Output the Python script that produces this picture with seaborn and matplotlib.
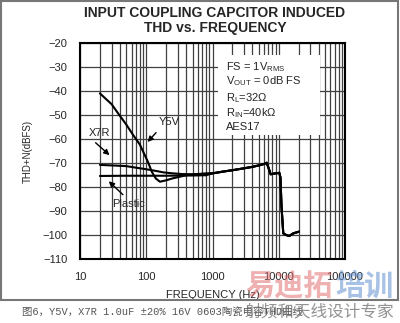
import matplotlib
matplotlib.use("Agg")
import matplotlib.pyplot as plt
import seaborn as sns
import pandas as pd
import numpy as np
from matplotlib.patches import Rectangle

# ---- data ----
y5v_freq = [20, 25, 30, 38, 50, 64, 80, 98, 107, 121, 140, 161, 200, 250, 323, 408, 500, 700]
y5v_thd = [-41, -43.5, -45.5, -49.5, -54, -58.5, -62.3, -67.5, -69.8, -73.6, -76.5, -77.8, -77.2, -76.4, -75.7, -75.0, -74.8, -74.5]

x7r_freq = [20, 30, 50, 72, 100, 140, 181, 250, 350, 513, 700]
x7r_thd = [-70.8, -71.0, -71.3, -72.0, -72.6, -73.3, -73.9, -74.3, -74.6, -74.7, -74.5]

plastic_freq = [20, 50, 100, 200, 500, 800]
plastic_thd = [-75.4, -75.3, -75.3, -75.3, -75.2, -75.1]

tail_freq = [1000, 1500, 2000, 3000, 4000, 5000, 6000, 6580, 7100, 7550, 8500, 10200, 10600, 11000, 11700, 13000, 14400, 16600, 18500, 20200]
tail_thd = [-74.3, -73.5, -73.0, -72.2, -71.6, -71.0, -70.4, -69.9, -72.5, -74.7, -74.4, -74.1, -76.0, -88.0, -99.3, -100.0, -100.4, -99.3, -98.9, -98.6]

series_names = ["Y5V", "X7R", "Plastic"]
y_ticks = [-20, -30, -40, -50, -60, -70, -80, -90, -100, -110]
x_ticks = [10, 100, 1000, 10000, 100000]
x_tick_labels = ["10", "100", "1000", "10000", "100000"]

rows = []
for name, fr, th in [("Y5V", y5v_freq, y5v_thd), ("X7R", x7r_freq, x7r_thd), ("Plastic", plastic_freq, plastic_thd)]:
    for f, t in zip(fr + tail_freq, th + tail_thd):
        rows.append({"series": name, "freq": f, "thd": t})
df = pd.DataFrame(rows)

sns.set_style("white")
plt.rcParams["font.family"] = ["Liberation Sans", "DejaVu Sans"]
plt.rcParams["mathtext.fontset"] = "custom"
plt.rcParams["mathtext.rm"] = "Liberation Sans"
plt.rcParams["mathtext.it"] = "Liberation Sans"

fig = plt.figure(figsize=(4.0, 3.23), dpi=100)
ax = fig.add_axes([0.2, 0.198, 0.6625, 0.669])

ax.set_xscale("log")
ax.set_xlim(10, 100000)
ax.set_ylim(-110, -20)

# grid
ax.set_xticks(x_ticks)
ax.set_xticklabels(x_tick_labels)
ax.set_yticks(y_ticks)
ax.xaxis.set_minor_locator(matplotlib.ticker.LogLocator(base=10, subs=np.arange(2, 10)))
ax.xaxis.set_minor_formatter(matplotlib.ticker.NullFormatter())
ax.grid(True, which="both", axis="x", color="#404040", linewidth=0.9, zorder=0)
ax.grid(True, which="major", axis="y", color="#404040", linewidth=0.9, zorder=0)
ax.set_axisbelow(True)
ax.tick_params(axis="both", which="both", length=0, labelsize=8, pad=9)

# white box behind condition text
ax.add_patch(Rectangle((1210, -58.3), 42000 - 1210, 33.3, facecolor="white", edgecolor="none", zorder=1.5))

for name in series_names:
    sns.lineplot(data=df[df.series == name], x="freq", y="thd", ax=ax, color="black",
                 linewidth=1.5, sort=False, estimator=None, zorder=3)

for s in ax.spines.values():
    s.set_color("black")
    s.set_linewidth(1.5)

ax.set_xlabel("FREQUENCY (Hz)", fontsize=8, labelpad=6)
ax.set_ylabel("THD+N(dBFS)", fontsize=7, labelpad=7)

# condition text
cond = ["FS = 1V$_{\\mathrm{RMS}}$", "V$_{\\mathrm{OUT}}$ = 0dB FS", "R$_{\\mathrm{L}}$=32\u03a9",
        "R$_{\\mathrm{IN}}$=40k\u03a9", "AES17"]
cond_y = [-29.9, -35.8, -42.8, -49.3, -55.0]
for t, yy in zip(cond, cond_y):
    ax.text(1600, yy, t, fontsize=8, va="center", ha="left", zorder=4)

# labels with arrows
arrow_kw = dict(arrowstyle="-|>", color="black", lw=1.0, mutation_scale=8)
ax.text(220, -52.9, "Y5V", fontsize=8, ha="center", va="center", zorder=4)
ax.annotate("", xy=(98, -62.1), xytext=(150, -56.5), arrowprops=arrow_kw, zorder=4)
ax.text(20, -57.6, "X7R", fontsize=8, ha="center", va="center", zorder=4)
ax.annotate("", xy=(30, -67.5), xytext=(16, -60.8), arrowprops=arrow_kw, zorder=4)
ax.text(53.6, -87.2, "Plastic", fontsize=8, ha="center", va="center", zorder=4)
ax.annotate("", xy=(25.3, -76.8), xytext=(47.7, -84.0), arrowprops=arrow_kw, zorder=4)

# title
fig.text(0.5375, 1 - 13 / 323, "INPUT COUPLING CAPCITOR INDUCED", ha="center", va="center",
         fontsize=10, fontweight="bold")
fig.text(0.5375, 1 - 28 / 323, "THD vs. FREQUENCY", ha="center", va="center",
         fontsize=10, fontweight="bold")

# outer frame
fig.patches.append(Rectangle((0.0025, 1 - 300 / 323), 0.9925, 299 / 323, transform=fig.transFigure,
                             fill=False, edgecolor="#777777", linewidth=1.5))

# caption and watermark
cjk = ["Noto Sans CJK SC", "DejaVu Sans"]
fig.text(22 / 400, 1 - 312 / 323, "图6，Y5V，X7R 1.0uF ±20% 16V 0603陶瓷电容THD曲线",
         fontsize=7.5, color="#555555", ha="left", va="center",
         family=["Liberation Mono", "Noto Sans CJK SC", "DejaVu Sans"])
fig.text(245 / 400, 1 - 286 / 323, "易迪拓", fontsize=21, fontweight="bold", color="#e07070",
         alpha=0.55, ha="left", va="center", family=cjk)
fig.text(335 / 400, 1 - 286 / 323, "培训", fontsize=21, fontweight="bold", color="#6090d0",
         alpha=0.55, ha="left", va="center", family=cjk)
fig.text(245 / 400, 1 - 312 / 323, "射频和天线设计专家", fontsize=12, color="#777777",
         alpha=0.8, ha="left", va="center", family=cjk)

fig.savefig("out.png", dpi=100)
